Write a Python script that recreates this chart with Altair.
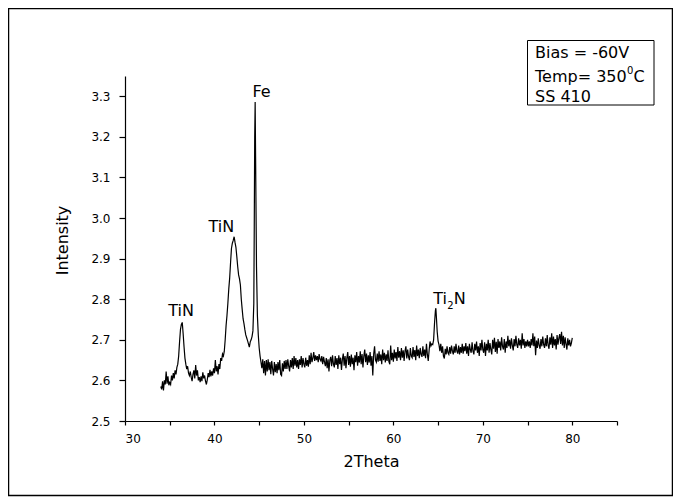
import altair as alt
import pandas as pd

# Intensity, 2Theta = 34.0 ... 80.0 in 0.1 steps
intensity = [
    2.585, 2.578, 2.598, 2.575, 2.600, 2.590, 2.622, 2.592, 2.610, 2.588,  # 34
    2.595, 2.590, 2.612, 2.600, 2.618, 2.605, 2.625, 2.615, 2.632, 2.640,  # 35
    2.660, 2.695, 2.725, 2.738, 2.743, 2.715, 2.683, 2.655, 2.640, 2.628,  # 36
    2.635, 2.618, 2.612, 2.622, 2.608, 2.598, 2.615, 2.625, 2.605, 2.638,  # 37
    2.612, 2.625, 2.600, 2.608, 2.596, 2.610, 2.598, 2.620, 2.605, 2.612,  # 38
    2.598, 2.590, 2.602, 2.618, 2.608, 2.626, 2.610, 2.622, 2.612, 2.630,  # 39
    2.618, 2.650, 2.622, 2.635, 2.615, 2.640, 2.628, 2.655, 2.648, 2.665,  # 40
    2.660, 2.672, 2.700, 2.735, 2.760, 2.790, 2.825, 2.852, 2.890, 2.925,  # 41
    2.938, 2.945, 2.954, 2.940, 2.928, 2.905, 2.880, 2.860, 2.850, 2.835,  # 42
    2.800, 2.775, 2.752, 2.740, 2.725, 2.712, 2.705, 2.698, 2.690, 2.682,  # 43
    2.695, 2.700, 2.708, 2.722, 2.790, 3.200, 3.150, 2.880, 2.760, 2.712,  # 44
    2.680, 2.660, 2.645, 2.630, 2.652, 2.618, 2.648, 2.612, 2.650, 2.622,  # 45
    2.652, 2.625, 2.645, 2.615, 2.648, 2.628, 2.612, 2.645, 2.620, 2.640,  # 46
    2.618, 2.645, 2.625, 2.650, 2.615, 2.612, 2.642, 2.622, 2.648, 2.628,  # 47
    2.650, 2.628, 2.652, 2.635, 2.622, 2.650, 2.632, 2.655, 2.628, 2.660,  # 48
    2.636, 2.655, 2.632, 2.650, 2.628, 2.652, 2.638, 2.660, 2.632, 2.655,  # 49
    2.640, 2.632, 2.656, 2.636, 2.650, 2.634, 2.662, 2.640, 2.668, 2.645,  # 50
    2.655, 2.670, 2.648, 2.662, 2.650, 2.660, 2.645, 2.665, 2.652, 2.648,  # 51
    2.660, 2.640, 2.658, 2.645, 2.635, 2.655, 2.630, 2.652, 2.622, 2.650,  # 52
    2.658, 2.635, 2.662, 2.640, 2.632, 2.660, 2.638, 2.655, 2.628, 2.662,  # 53
    2.640, 2.656, 2.626, 2.652, 2.666, 2.636, 2.660, 2.630, 2.655, 2.670,  # 54
    2.638, 2.660, 2.634, 2.664, 2.640, 2.656, 2.625, 2.662, 2.645, 2.670,  # 55
    2.636, 2.660, 2.644, 2.672, 2.640, 2.665, 2.632, 2.660, 2.676, 2.645,  # 56
    2.666, 2.638, 2.662, 2.644, 2.670, 2.636, 2.660, 2.612, 2.665, 2.684,  # 57
    2.650, 2.645, 2.666, 2.646, 2.672, 2.648, 2.664, 2.640, 2.676, 2.650,  # 58
    2.668, 2.644, 2.664, 2.648, 2.674, 2.646, 2.640, 2.686, 2.650, 2.668,  # 59
    2.646, 2.676, 2.654, 2.670, 2.648, 2.682, 2.656, 2.672, 2.650, 2.680,  # 60
    2.656, 2.674, 2.648, 2.672, 2.684, 2.654, 2.676, 2.658, 2.650, 2.680,  # 61
    2.660, 2.656, 2.682, 2.658, 2.675, 2.650, 2.686, 2.660, 2.676, 2.655,  # 62
    2.680, 2.664, 2.658, 2.684, 2.660, 2.676, 2.655, 2.690, 2.664, 2.648,  # 63
    2.675, 2.696, 2.685, 2.690, 2.688, 2.700, 2.740, 2.772, 2.760, 2.720,  # 64
    2.697, 2.688, 2.672, 2.690, 2.668, 2.684, 2.660, 2.654, 2.678, 2.664,  # 65
    2.684, 2.668, 2.664, 2.682, 2.666, 2.686, 2.672, 2.664, 2.684, 2.668,  # 66
    2.690, 2.672, 2.666, 2.686, 2.664, 2.682, 2.668, 2.690, 2.666, 2.684,  # 67
    2.672, 2.692, 2.666, 2.684, 2.660, 2.690, 2.676, 2.668, 2.694, 2.672,  # 68
    2.664, 2.690, 2.674, 2.696, 2.668, 2.684, 2.660, 2.692, 2.674, 2.700,  # 69
    2.676, 2.668, 2.694, 2.660, 2.690, 2.674, 2.700, 2.668, 2.692, 2.676,  # 70
    2.664, 2.700, 2.678, 2.705, 2.670, 2.695, 2.666, 2.702, 2.680, 2.696,  # 71
    2.674, 2.706, 2.684, 2.676, 2.702, 2.668, 2.696, 2.680, 2.710, 2.684,  # 72
    2.700, 2.678, 2.704, 2.686, 2.674, 2.702, 2.684, 2.710, 2.688, 2.680,  # 73
    2.704, 2.686, 2.700, 2.678, 2.716, 2.686, 2.702, 2.680, 2.696, 2.684,  # 74
    2.700, 2.684, 2.696, 2.680, 2.702, 2.686, 2.716, 2.684, 2.708, 2.662,  # 75
    2.698, 2.680, 2.704, 2.686, 2.678, 2.702, 2.684, 2.708, 2.688, 2.680,  # 76
    2.704, 2.684, 2.712, 2.686, 2.678, 2.706, 2.688, 2.716, 2.680, 2.708,  # 77
    2.686, 2.702, 2.676, 2.712, 2.688, 2.704, 2.714, 2.690, 2.720, 2.686,  # 78
    2.710, 2.680, 2.706, 2.690, 2.676, 2.704, 2.686, 2.700, 2.684, 2.692,  # 79
    2.705,                                                                 # 80
]
two_theta = [round(34.0 + 0.1 * i, 1) for i in range(len(intensity))]

# extra points on the sharp peaks
peak_theta = [44.45, 44.55, 64.75]
peak_intensity = [2.980, 3.286, 2.778]

df = pd.DataFrame({
    "x": two_theta + peak_theta,
    "y": intensity + peak_intensity,
}).sort_values("x")

# peak labels
label_text = ["TiN", "TiN", "Fe"]
label_x = [36.26, 40.78, 45.27]
label_y = [2.759, 2.965, 3.299]
labels = pd.DataFrame({"t": label_text, "x": label_x, "y": label_y})

ti2n = pd.DataFrame({"x": [64.45], "y": [2.789]})

x_ticks = [30, 35, 40, 45, 50, 55, 60, 65, 70, 75, 80, 85]
y_ticks = [2.5, 2.55, 2.6, 2.65, 2.7, 2.75, 2.8, 2.85, 2.9, 2.95, 3.0,
           3.05, 3.1, 3.15, 3.2, 3.25, 3.3, 3.35]

legend_lines = ["Bias = -60V", "Temp= 350", "SS 410"]

FONT = "DejaVu Sans"
W, H = 492, 345

xs = alt.Scale(domain=[30, 85], nice=False, zero=False)
ys = alt.Scale(domain=[2.5, 3.35], nice=False, zero=False)

MAJOR = "abs(round(datum.value * 10) - datum.value * 10) < 0.01"

line = alt.Chart(df).mark_line(color="black", strokeWidth=1.2).encode(
    x=alt.X("x:Q", scale=xs, axis=alt.Axis(
        values=x_ticks,
        labelExpr="datum.value % 10 === 0 ? datum.label : ''",
        format="d", tickSize=4, labelPadding=8,
        title="2Theta", titlePadding=9, titleFontSize=16,
    )),
    y=alt.Y("y:Q", scale=ys, axis=alt.Axis(
        values=y_ticks,
        labelExpr=MAJOR + " ? format(datum.value, '.1f') : ''",
        tickSize={"condition": {"test": MAJOR, "value": 6}, "value": 3},
        labelPadding=9,
        title="Intensity", titlePadding=20, titleFontSize=16, titleY=164,
    )),
)

peak_labels = alt.Chart(labels).mark_text(
    font=FONT, fontSize=16, color="black", align="center", baseline="alphabetic"
).encode(x=alt.X("x:Q", scale=xs), y=alt.Y("y:Q", scale=ys), text="t:N")

ti = alt.Chart(ti2n).mark_text(font=FONT, fontSize=16, color="black", align="left",
                               baseline="alphabetic").encode(
    x=alt.X("x:Q", scale=xs), y=alt.Y("y:Q", scale=ys), text=alt.value("Ti"))
sub2 = alt.Chart(ti2n).mark_text(font=FONT, fontSize=10, color="black", align="left",
                                 baseline="alphabetic", dx=14.2, dy=5).encode(
    x=alt.X("x:Q", scale=xs), y=alt.Y("y:Q", scale=ys), text=alt.value("2"))
nn = alt.Chart(ti2n).mark_text(font=FONT, fontSize=16, color="black", align="left",
                               baseline="alphabetic", dx=20.6).encode(
    x=alt.X("x:Q", scale=xs), y=alt.Y("y:Q", scale=ys), text=alt.value("N"))

# legend box (annotation, pixel placed)
box = alt.Chart(ti2n).mark_rect(fill="white", stroke="black", strokeWidth=1).encode(
    x=alt.value(402.5), x2=alt.value(529), y=alt.value(-35.5), y2=alt.value(29))
leg1 = alt.Chart(ti2n).mark_text(font=FONT, fontSize=16, color="black", align="left",
                                 baseline="alphabetic").encode(
    x=alt.value(410), y=alt.value(-17.7), text=alt.value(legend_lines[0]))
leg2 = alt.Chart(ti2n).mark_text(font=FONT, fontSize=16, color="black", align="left",
                                 baseline="alphabetic").encode(
    x=alt.value(410), y=alt.value(5.7), text=alt.value(legend_lines[1]))
leg2s = alt.Chart(ti2n).mark_text(font=FONT, fontSize=10, color="black", align="left",
                                  baseline="alphabetic").encode(
    x=alt.value(502), y=alt.value(-2), text=alt.value("0"))
leg2c = alt.Chart(ti2n).mark_text(font=FONT, fontSize=16, color="black", align="left",
                                  baseline="alphabetic").encode(
    x=alt.value(508.5), y=alt.value(5.7), text=alt.value("C"))
leg3 = alt.Chart(ti2n).mark_text(font=FONT, fontSize=16, color="black", align="left",
                                 baseline="alphabetic").encode(
    x=alt.value(410), y=alt.value(25.7), text=alt.value(legend_lines[2]))

# outer figure frame
frame = alt.Chart(ti2n).mark_rect(fill=None, stroke="black", strokeWidth=1.5).encode(
    x=alt.value(-116.5), x2=alt.value(547.5), y=alt.value(-67.5), y2=alt.value(419.5))

chart = alt.layer(
    frame, line, peak_labels, ti, sub2, nn, box, leg1, leg2, leg2s, leg2c, leg3
).properties(
    width=W, height=H,
    autosize=alt.AutoSizeParams(type="none"),
    padding={"left": 117, "top": 68, "right": 56, "bottom": 76},
    background="white",
).configure_view(stroke=None).configure_axis(
    grid=False, domainColor="black", tickColor="black", labelColor="black",
    titleColor="black", labelFont=FONT, titleFont=FONT, labelFontSize=12,
    titleFontWeight="normal", domainWidth=1.2, tickWidth=1.2,
)

chart.save("out.html", embed_options={"renderer": "svg", "actions": False})
